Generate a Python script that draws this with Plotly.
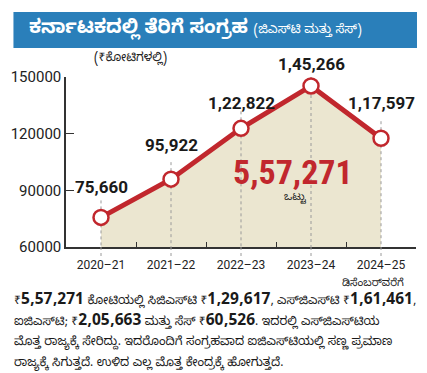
import plotly.graph_objects as go

years = ["2020–21", "2021–22", "2022–23", "2023–24", "2024–25"]
values = [75660, 95922, 122822, 145266, 117597]
value_labels = ["75,660", "95,922", "1,22,822", "1,45,266", "1,17,597"]
label_shift = [30, 34, 25, 22, 35]
ytick_vals = [60000, 90000, 120000, 150000]
ytick_text = ["60000", "90000", "120000", "150000"]

title_main = "ಕರ್ನಾಟಕದಲ್ಲಿ ತೆರಿಗೆ ಸಂಗ್ರಹ"
title_sub = "(ಜಿಎಸ್‌ಟಿ ಮತ್ತು ಸೆಸ್)"
unit_text = "(₹ಕೋಟಿಗಳಲ್ಲಿ)"
total_text = "5,57,271"
total_caption = "ಒಟ್ಟು"
last_note = "ಡಿಸೆಂಬರ್‌ವರೆಗೆ"
para_lines = [
    "₹<b>5,57,271</b> ಕೋಟಿಯಲ್ಲಿ ಸಿಜಿಎಸ್‌ಟಿ ₹<b>1,29,617</b>, ಎಸ್‌ಜಿಎಸ್‌ಟಿ ₹<b>1,61,461</b>,",
    "ಐಜಿಎಸ್‌ಟಿ; ₹<b>2,05,663</b> ಮತ್ತು ಸೆಸ್ ₹<b>60,526</b>. ಇದರಲ್ಲಿ ಎಸ್‌ಜಿಎಸ್‌ಟಿಯ",
    "ಮೊತ್ತ ರಾಜ್ಯಕ್ಕೆ ಸೇರಿದ್ದು. ಇದರೊಂದಿಗೆ ಸಂಗ್ರಹವಾದ ಐಜಿಎಸ್‌ಟಿಯಲ್ಲಿ ಸಣ್ಣ ಪ್ರಮಾಣ",
    "ರಾಜ್ಯಕ್ಕೆ ಸಿಗುತ್ತದೆ. ಉಳಿದ ಎಲ್ಲ ಮೊತ್ತ ಕೇಂದ್ರಕ್ಕೆ ಹೋಗುತ್ತದೆ.",
]

W, H = 427, 373
L, R, T, B = 63, 11, 77, 126
PW, PH = W - L - R, H - T - B
YMIN, YMAX = 60000, 150000

def px_x(px):
    return (px - L) / PW

def px_y(py):
    return (H - B - py) / PH

RED = "#c1272d"
BLUE = "#2a7fba"
FILL = "#ebe6d0"
KN = "Noto Sans Kannada, Noto Sans, sans-serif"
NUM = "Roboto, Liberation Sans, sans-serif"

fig = go.Figure()

fig.add_trace(go.Scatter(x=years, y=[YMIN] * len(years), mode="lines",
                         line=dict(width=0), hoverinfo="skip", showlegend=False))
fig.add_trace(go.Scatter(x=years, y=values, mode="lines", fill="tonexty",
                         fillcolor=FILL, line=dict(width=0), hoverinfo="skip",
                         showlegend=False))

for i, (yr, v) in enumerate(zip(years, values)):
    fig.add_trace(go.Scatter(x=[yr, yr], y=[min(v + 9000, YMAX), YMIN], mode="lines",
                             line=dict(color="#9a9a9a", width=1, dash="dot"),
                             hoverinfo="skip", showlegend=False))

fig.add_trace(go.Scatter(x=years, y=values, mode="lines+markers",
                         line=dict(color=RED, width=5),
                         marker=dict(size=15, color="white", line=dict(color=RED, width=2.5)),
                         cliponaxis=False, showlegend=False))

shapes = []
shapes.append(dict(type="rect", xref="paper", yref="paper",
                   x0=px_x(10), x1=px_x(417), y0=px_y(48), y1=px_y(12),
                   fillcolor=BLUE, line=dict(width=0), layer="below"))
for yr in years:
    shapes.append(dict(type="line", xref="x", yref="paper", x0=yr, x1=yr,
                       y0=0, y1=px_y(258), line=dict(color="#9a9a9a", width=1, dash="dot")))

annotations = []
for yr, v, lab, s in zip(years, values, value_labels, label_shift):
    annotations.append(dict(x=yr, y=v, xref="x", yref="y", text=lab, showarrow=False,
                            xanchor="center", yanchor="middle",
                            yshift=s, font=dict(family=NUM, size=17, color="#1a1a1a", weight="bold")))

annotations.append(dict(x=px_x(24), y=px_y(30), xref="paper", yref="paper", xanchor="left",
                        yanchor="middle", showarrow=False,
                        text=f"<b>{title_main}</b> <span style='font-size:12.5px'>{title_sub}</span>",
                        font=dict(family=KN, size=19, color="white")))
annotations.append(dict(x=px_x(129), y=px_y(59), xref="paper", yref="paper", showarrow=False,
                        xanchor="center", yanchor="middle",
                        text=unit_text, font=dict(family=KN, size=12, color="#222")))
annotations.append(dict(x=px_x(292), y=px_y(172), xref="paper", yref="paper", showarrow=False,
                        xanchor="center", yanchor="middle",
                        text=f"<b>{total_text}</b>",
                        font=dict(family="Liberation Sans Narrow, Roboto Condensed, Roboto, sans-serif",
                                  size=34, color=RED)))
annotations.append(dict(x=px_x(294), y=px_y(199), xref="paper", yref="paper", showarrow=False,
                        xanchor="center", yanchor="middle",
                        text=total_caption, font=dict(family=KN, size=10.5, color="#222")))
annotations.append(dict(x=px_x(406), y=px_y(284), xref="paper", yref="paper", showarrow=False,
                        xanchor="right", yanchor="middle", text=last_note,
                        font=dict(family=KN, size=10.5, color="#222")))
for i, line in enumerate(para_lines):
    annotations.append(dict(x=px_x(9), y=px_y(301 + 21 * i), xref="paper", yref="paper",
                            xanchor="left", yanchor="middle", showarrow=False, align="left",
                            text=line.replace("<b>", "<b><span style='font-size:15.5px'>").replace("</b>", "</span></b>"),
                            font=dict(family=KN, size=12, color="#1a1a1a")))

fig.update_layout(
    width=W, height=H, margin=dict(l=L, r=R, t=T, b=B),
    paper_bgcolor="white", plot_bgcolor="white",
    shapes=shapes, annotations=annotations,
    xaxis=dict(type="category", range=[-0.5, 4.5], showgrid=False, showline=True,
               linecolor="#333", linewidth=1.5, ticks="inside", tickson="boundaries",
               ticklen=5, tickcolor="#333", ticklabelstandoff=6,
               tickfont=dict(family=NUM, size=12, color="#222")),
    yaxis=dict(range=[YMIN, YMAX], showgrid=False, showline=True, linecolor="#333",
               linewidth=1.5, ticks="inside", ticklen=8, tickcolor="#333",
               tickvals=ytick_vals, ticktext=ytick_text, zeroline=False,
               tickfont=dict(family=NUM, size=15, color="#222")),
)

fig.write_html("out.html", config={"displayModeBar": False},
               post_script="document.body.style.margin='0';document.body.style.padding='0';")
